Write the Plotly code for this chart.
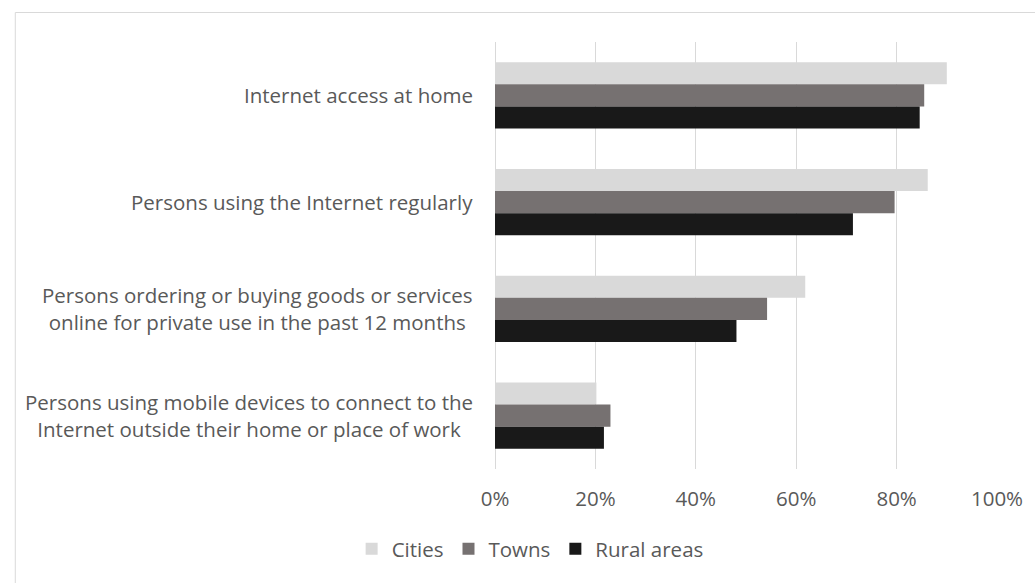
import plotly.graph_objects as go

categories = [
    "Internet access at home",
    "Persons using the Internet regularly",
    "Persons ordering or buying goods or services<br>online for private use in the past 12 months",
    "Persons using mobile devices to connect to the<br>Internet outside their home or place of work",
]
series_names = ["Cities", "Towns", "Rural areas"]
cities = [90.0, 86.2, 61.8, 20.2]
towns = [85.5, 79.6, 54.2, 23.0]
rural = [84.6, 71.3, 48.1, 21.7]
x_ticks = [0, 20, 40, 60, 80, 100]
x_tick_labels = ["0%", "20%", "40%", "60%", "80%", "100%"]

colors = ["#d9d9d9", "#767171", "#191919"]
FONT = "Open Sans"
TEXT = "#595959"
SIZE = 20.5

fig = go.Figure()
for name, vals, col in zip(series_names, [cities, towns, rural], colors):
    fig.add_trace(go.Bar(
        y=categories, x=vals, name=name, orientation="h",
        marker=dict(color=col, line=dict(width=0)),
        hoverinfo="x+name",
    ))

# category labels, centred per line and right-aligned against the axis
for cat in categories:
    fig.add_annotation(
        x=0, y=cat, xref="x", yref="y", text=cat, showarrow=False,
        xanchor="right", yanchor="middle", align="center", xshift=-20,
        font=dict(family=FONT, size=SIZE, color=TEXT),
    )

# thin chart-area border
fig.add_shape(
    type="rect", xref="paper", yref="paper",
    x0=-0.9556, x1=1.3, y0=-0.5, y1=1.0691,
    line=dict(color="#d9d9d9", width=1), fillcolor="rgba(0,0,0,0)", layer="below",
)

fig.update_layout(
    width=1035, height=583,
    margin=dict(l=495, r=31, t=42, b=114),
    paper_bgcolor="white", plot_bgcolor="white",
    barmode="group", bargap=0.38, bargroupgap=0,
    font=dict(family=FONT, size=SIZE, color=TEXT),
    showlegend=True,
    legend=dict(
        orientation="h", x=0.07, xanchor="center", y=-0.187, yanchor="middle",
        font=dict(family=FONT, size=SIZE, color=TEXT), itemwidth=30,
        traceorder="normal",
    ),
    xaxis=dict(
        range=[0, 100], tickvals=x_ticks, ticktext=x_tick_labels,
        showgrid=True, gridcolor="#d9d9d9", gridwidth=1,
        zeroline=True, zerolinecolor="#d9d9d9", zerolinewidth=1,
        showline=False, ticks="", ticklabelstandoff=15,
        tickfont=dict(family=FONT, size=SIZE, color=TEXT),
        fixedrange=True,
    ),
    yaxis=dict(
        autorange="reversed", showticklabels=False, showgrid=False,
        showline=False, zeroline=False, ticks="", fixedrange=True,
    ),
)

fig.write_html("out.html")
